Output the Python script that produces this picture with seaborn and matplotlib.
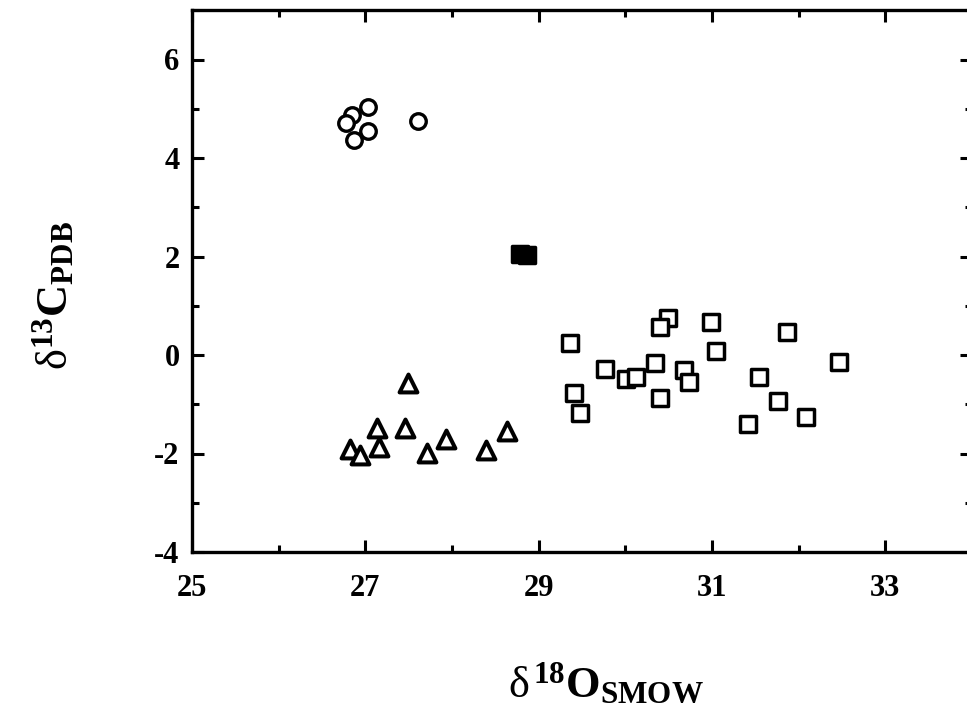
import matplotlib
matplotlib.use("Agg")
import matplotlib.pyplot as plt
from matplotlib.ticker import MultipleLocator
import seaborn as sns
import pandas as pd

# ---- data ----
circle_x = [27.03, 26.85, 26.78, 27.03, 26.87, 27.61]
circle_y = [5.03, 4.87, 4.72, 4.55, 4.37, 4.76]

triangle_x = [27.49, 27.13, 27.46, 27.16, 26.82, 26.94, 27.71, 27.93, 28.39, 28.63]
triangle_y = [-0.57, -1.49, -1.49, -1.86, -1.91, -2.03, -1.98, -1.71, -1.93, -1.54]

filled_x = [28.78, 28.86]
filled_y = [2.06, 2.04]

square_x = [29.36, 30.49, 30.40, 30.99, 31.86, 31.05, 30.34, 29.76, 30.01, 30.12,
            30.68, 30.74, 29.41, 29.48, 30.40, 31.54, 31.76, 31.42, 32.09, 32.47]
square_y = [0.25, 0.75, 0.57, 0.68, 0.47, 0.09, -0.17, -0.29, -0.49, -0.45,
            -0.30, -0.54, -0.77, -1.18, -0.88, -0.45, -0.93, -1.41, -1.25, -0.14]

x_ticks = [25, 27, 29, 31, 33]
y_ticks = [-4, -2, 0, 2, 4, 6]
x_label = r'$\mathrm{\delta}^{\,\mathbf{18}}\mathbf{O}_{\mathbf{SMOW}}$'
y_label = r'$\mathrm{\delta}^{\mathbf{13}}\mathbf{C}_{\mathbf{PDB}}$'

sns.set_theme(style="ticks")
plt.rcParams['font.family'] = ['Liberation Serif', 'DejaVu Serif']
plt.rcParams['mathtext.fontset'] = 'custom'
plt.rcParams['mathtext.rm'] = 'Liberation Serif'
plt.rcParams['mathtext.bf'] = 'Liberation Serif:bold'
plt.rcParams['mathtext.it'] = 'Liberation Serif:italic'
plt.rcParams['text.color'] = 'black'
plt.rcParams['axes.labelcolor'] = 'black'

fig = plt.figure(figsize=(9.67, 7.25), dpi=100)
ax = fig.add_axes([192 / 967, 1 - 552 / 725, 780 / 967, 541.75 / 725])

circles = pd.DataFrame({'x': circle_x, 'y': circle_y})
triangles = pd.DataFrame({'x': triangle_x, 'y': triangle_y})
filled = pd.DataFrame({'x': filled_x, 'y': filled_y})
squares = pd.DataFrame({'x': square_x, 'y': square_y})

sns.scatterplot(data=circles, x='x', y='y', marker='o', s=125,
                color='white', edgecolor='black', linewidth=2.4, ax=ax, zorder=3)
sns.scatterplot(data=triangles, x='x', y='y', marker='^', s=165,
                color='white', edgecolor='black', linewidth=2.9, ax=ax, zorder=3)
sns.scatterplot(data=squares, x='x', y='y', marker='s', s=128,
                color='white', edgecolor='black', linewidth=2.5, ax=ax, zorder=3)
sns.scatterplot(data=filled, x='x', y='y', marker='s', s=128,
                color='black', edgecolor='black', linewidth=2.5, ax=ax, zorder=3)

ax.set_xlim(25, 34)
ax.set_ylim(-4, 7)
ax.set_xticks(x_ticks)
ax.set_yticks(y_ticks)
ax.xaxis.set_minor_locator(MultipleLocator(1))
ax.yaxis.set_minor_locator(MultipleLocator(1))
ax.set_xticklabels([str(t) for t in x_ticks])
ax.set_yticklabels([str(t) for t in y_ticks])

ax.tick_params(which='both', direction='in', top=True, right=True, width=2.2,
               color='black')
ax.tick_params(which='major', length=8.8)
ax.tick_params(which='minor', length=5.2)
ax.tick_params(axis='x', which='major', pad=16, labelsize=22)
ax.tick_params(axis='y', which='major', pad=9, labelsize=22)
for lab in ax.get_xticklabels() + ax.get_yticklabels():
    lab.set_fontweight('bold')
    lab.set_color('black')

for sp in ax.spines.values():
    sp.set_linewidth(2.4)
    sp.set_color('black')

ax.set_xlabel(x_label, fontsize=32, va='center', ha='center', color='black')
ax.set_ylabel(y_label, fontsize=32, va='center', ha='center', color='black')
ax.xaxis.set_label_coords((606 - 192) / 780, (552 - 683) / 541.75)
ax.yaxis.set_label_coords((53 - 192) / 780, (552 - 295) / 541.75)

fig.savefig('out.png', dpi=100, facecolor='white')
